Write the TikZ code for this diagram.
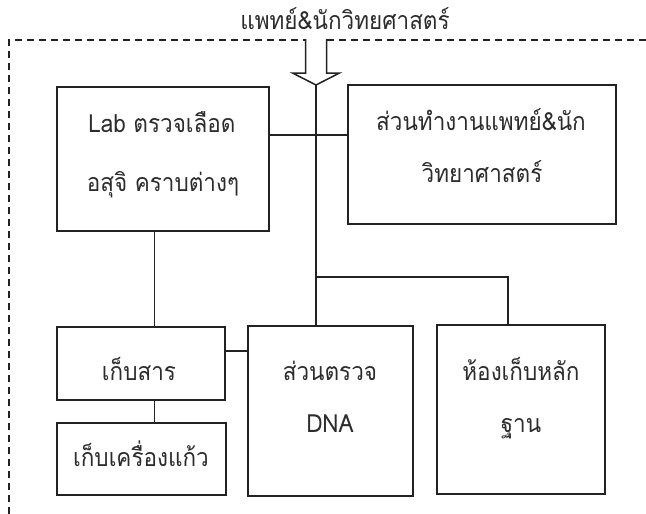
\documentclass[tikz,border=0pt]{standalone}
\usepackage{fontspec}
\usepackage{graphicx}
\newfontfamily\thaifont[Script=Thai]{Loma}
\newcommand{\thx}[1]{\scalebox{0.9}[1]{#1}}
\usetikzlibrary{calc}
\definecolor{ink}{HTML}{222222}
\definecolor{txtc}{HTML}{2c2c2c}
\begin{document}
\begin{tikzpicture}[x=1pt,y=-1pt,
  box/.style={draw=ink, line width=1.6pt, inner sep=0pt, outer sep=0pt},
  txt/.style={anchor=base, inner sep=0pt, text=txtc, font=\thaifont\fontsize{25}{28}\selectfont},
  wire/.style={draw=ink, line width=1.5pt},
  border/.style={draw=ink, line width=1.8pt, dash pattern=on 7pt off 5pt}]
\useasboundingbox (0,0) rectangle (646,514);
% dashed frame
\coordinate (fTL) at (9,40);
\coordinate (fTR) at (646,40);
\coordinate (fBL) at (9,514);
\draw[border] (fBL) -- (fTL) -- (fTR);
% title
\node[txt] (title) at (345,29) {\thx{แพทย์\&นักวิทยศาสตร์}};
% block arrow
\coordinate (tip) at (316,85);
\draw[ink, line width=1.5pt, fill=white, line join=miter]
  (305.5,39) -- (305.5,73) -- (292.5,73) -- (tip) -- (339.5,73) -- (326.5,73) -- (326.5,39);
% boxes
\node[box, minimum width=212pt, minimum height=144pt] (lab) at (163,159) {};
\node[box, minimum width=268pt, minimum height=139pt] (work) at (482,154.5) {};
\node[box, minimum width=168pt, minimum height=73pt] (store) at (141,363.5) {};
\node[box, minimum width=169pt, minimum height=72pt] (glass) at (141.5,459) {};
\node[box, minimum width=165pt, minimum height=170pt] (dna) at (330.5,411) {};
\node[box, minimum width=168pt, minimum height=169pt] (evid) at (521,409.5) {};
% texts
\node[txt] (lab1) at (162,132) {\thx{Lab ตรวจเลือด}};
\node[txt] (lab2) at (163,191) {\thx{อสุจิ คราบต่างๆ}};
\node[txt] (work1) at (481,130) {\thx{ส่วนทำงานแพทย์\&นัก}};
\node[txt] (work2) at (482,182) {\thx{วิทยาศาสตร์}};
\node[txt] (store1) at (139,380) {\thx{เก็บสาร}};
\node[txt] (glass1) at (141,466) {\thx{เก็บเครื่องแก้ว}};
\node[txt] (dna1) at (330,380) {\thx{ส่วนตรวจ}};
\node[txt] (dna2) at (330,432) {\thx{DNA}};
\node[txt] (evid1) at (521,380) {\thx{ห้องเก็บหลัก}};
\node[txt] (evid2) at (521,432) {\thx{ฐาน}};
% connectors
\coordinate (j1) at (316,135);
\coordinate (j2) at (508,277);
\coordinate (j3) at (0,351);
\coordinate (j4) at (154.5,0);
\draw[wire] (tip) -- (tip |- dna.north);
\draw[wire] (lab.east |- j1) -- (work.west |- j1);
\draw[wire] (tip |- j2) -- (j2) -- (j2 |- evid.north);
\draw[wire] (lab.south -| j4) -- (store.north -| j4);
\draw[wire] (store.east |- j3) -- (dna.west |- j3);
\draw[wire] (store.south -| j4) -- (glass.north -| j4);
\end{tikzpicture}
\end{document}
